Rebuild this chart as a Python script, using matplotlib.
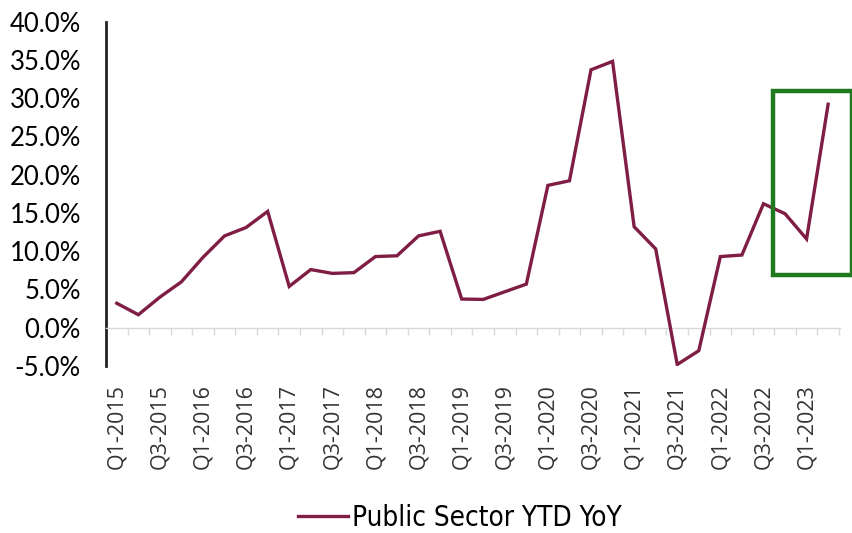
import matplotlib
matplotlib.use("Agg")
import matplotlib.pyplot as plt
from matplotlib.patches import Rectangle
import numpy as np

# Quarterly public sector YTD year-on-year growth (%)
quarters = [f"Q{q}-{y}" for y in range(2015, 2024) for q in range(1, 5)][:34]
public_sector_yoy = [
    3.2, 1.7, 4.0, 6.0, 9.2, 12.0, 13.1, 15.2,
    5.4, 7.6, 7.1, 7.2, 9.3, 9.4, 12.0, 12.6,
    3.75, 3.7, 4.7, 5.7, 18.6, 19.2, 33.7, 34.8,
    13.2, 10.3, -4.8, -3.0, 9.3, 9.5, 16.2, 14.9,
    11.6, 29.2,
]
y_ticks = [-5, 0, 5, 10, 15, 20, 25, 30, 35, 40]
highlight_range = (30.44, 34.1, 6.9, 30.9)  # x0, x1, y0, y1 of the recent-quarters box

line_color = "#7f1d44"
box_color = "#1f7a1f"

fig = plt.figure(figsize=(8.52, 5.33), dpi=100)
ax = fig.add_axes([0.1244, 0.3133, 0.8615, 0.6462])

x = np.arange(len(quarters))
ax.plot(x, public_sector_yoy, color=line_color, lw=2.4, label="Public Sector YTD YoY",
        solid_joinstyle="miter", zorder=3)

ax.set_xlim(-0.5, len(quarters) - 0.45)
ax.set_ylim(-5, 40)

# y axis
ax.set_yticks(y_ticks)
ax.set_yticklabels([f"{v:.1f}%" for v in y_ticks], fontfamily="Lato", fontsize=18.5)
ax.tick_params(axis="y", length=0, pad=18)
for lbl in ax.get_yticklabels():
    lbl.set_horizontalalignment("right")
ax.spines["left"].set_color("#222222")
ax.spines["left"].set_linewidth(2.0)
ax.spines["top"].set_visible(False)
ax.spines["right"].set_visible(False)

# zero baseline with category boundary ticks
ax.spines["bottom"].set_position(("data", 0))
ax.spines["bottom"].set_color("#d9d9d9")
ax.spines["bottom"].set_linewidth(1.0)
ax.set_xticks([])
ax.set_xticks(np.arange(len(quarters)) + 0.5, minor=True)
ax.tick_params(axis="x", which="minor", length=5, color="#d9d9d9", width=1.0, direction="out")

# category labels along the bottom edge
sec = ax.secondary_xaxis(0.0)
sec.spines["bottom"].set_visible(False)
sec.set_xticks(x[::2])
sec.set_xticklabels(quarters[::2], rotation=90, fontfamily="Open Sans", fontsize=15.5,
                    color="#333333")
sec.tick_params(length=0, pad=13)

# highlight box around the latest quarters
x0, x1, y0, y1 = highlight_range
ax.add_patch(Rectangle((x0, y0), x1 - x0, y1 - y0, fill=False, edgecolor=box_color,
                       lw=3.2, clip_on=False, zorder=4))

leg = fig.legend(loc="lower center", bbox_to_anchor=(0.54, -0.045), frameon=False,
                 handlelength=1.8, handletextpad=0.15,
                 prop={"family": "DejaVu Sans", "stretch": "condensed", "size": 20})

fig.savefig("out.png", dpi=100)
